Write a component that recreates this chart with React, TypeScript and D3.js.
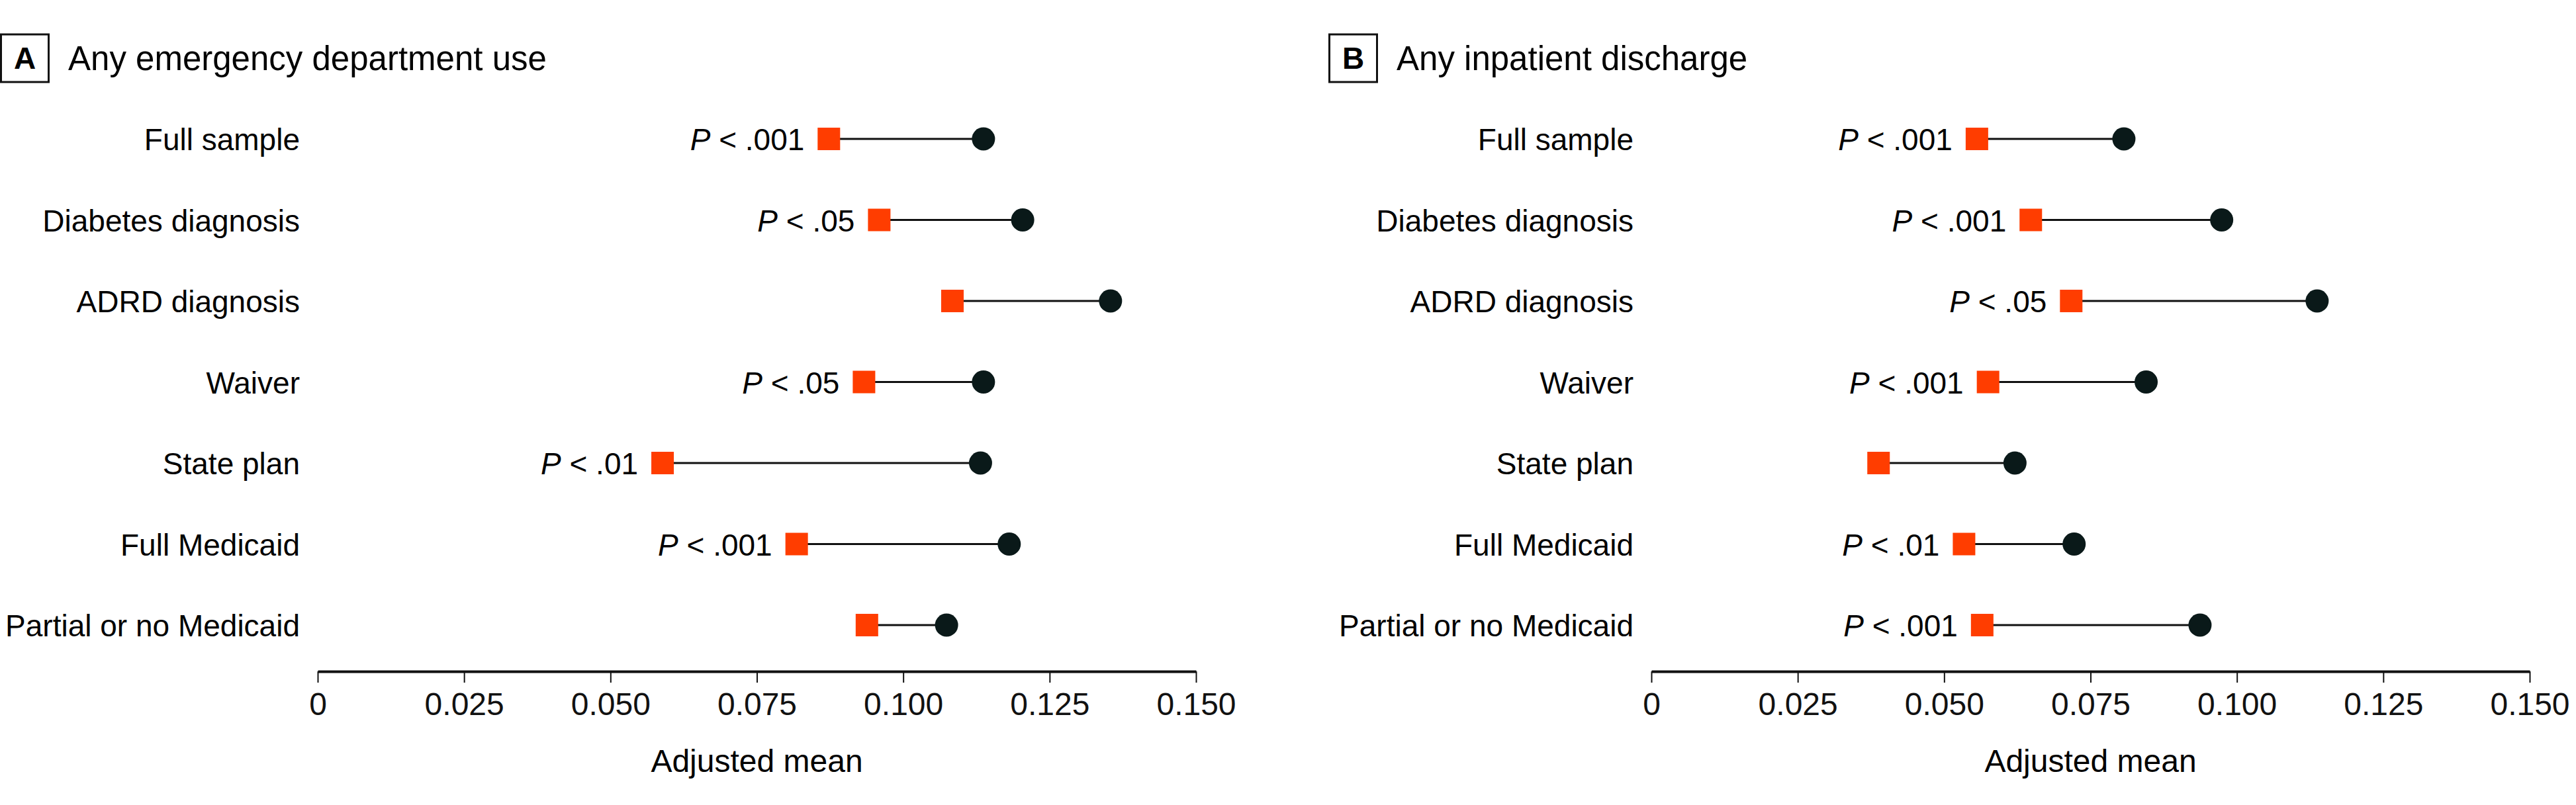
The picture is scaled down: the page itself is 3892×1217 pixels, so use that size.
import React, { useEffect, useRef } from 'react';
import * as d3 from 'd3';

// Row categories, top to bottom
const CATEGORIES = [
  'Full sample',
  'Diabetes diagnosis',
  'ADRD diagnosis',
  'Waiver',
  'State plan',
  'Full Medicaid',
  'Partial or no Medicaid',
];

// Panel A: any emergency department use (square = lower, circle = higher)
const ED_SQUARE = [0.0873, 0.0959, 0.1084, 0.0933, 0.0589, 0.0818, 0.0938];
const ED_CIRCLE = [0.1137, 0.1204, 0.1354, 0.1137, 0.1132, 0.1181, 0.1074];
const ED_P = ['.001', '.05', '', '.05', '.01', '.001', ''];

// Panel B: any inpatient discharge
const IP_SQUARE = [0.0556, 0.0648, 0.0717, 0.0575, 0.0388, 0.0534, 0.0565];
const IP_CIRCLE = [0.0807, 0.0974, 0.1137, 0.0845, 0.0621, 0.0722, 0.0937];
const IP_P = ['.001', '.001', '.05', '.001', '', '.01', '.001'];

const TICKS = [0, 0.025, 0.05, 0.075, 0.1, 0.125, 0.15];
const TICK_LABELS = ['0', '0.025', '0.050', '0.075', '0.100', '0.125', '0.150'];

const PANELS = [
  { letter: 'A', title: 'Any emergency department use', squares: ED_SQUARE, circles: ED_CIRCLE, pvals: ED_P },
  { letter: 'B', title: 'Any inpatient discharge', squares: IP_SQUARE, circles: IP_CIRCLE, pvals: IP_P },
];

const W = 3892;
const H = 1217;
const FONT = '"Liberation Sans", Arial, sans-serif';
const ORANGE = '#ff3d00';
const DARK = '#0a1919';

const App = () => {
  const ref = useRef<SVGSVGElement | null>(null);

  useEffect(() => {
    const svg = d3.select(ref.current);
    svg.selectAll('*').remove();

    const y = d3.scalePoint<string>().domain(CATEGORIES).range([210, 945]);

    PANELS.forEach((p, pi) => {
      const ox = pi * 2015;
      const g = svg.append('g').attr('transform', `translate(${ox},0)`);
      const x = d3.scaleLinear().domain([0, 0.15]).range([480, 1807]);

      // header box + title (box B sits slightly left of the panel offset)
      const hx = pi * -8;
      g.append('rect')
        .attr('x', hx + 1.5).attr('y', 52)
        .attr('width', 72).attr('height', 72)
        .attr('fill', 'none').attr('stroke', '#111').attr('stroke-width', 3);
      g.append('text')
        .attr('x', hx + 37.5).attr('y', 104)
        .attr('text-anchor', 'middle')
        .attr('font-family', FONT).attr('font-weight', 'bold').attr('font-size', 46)
        .text(p.letter);
      g.append('text')
        .attr('x', hx + 103).attr('y', 106)
        .attr('font-family', FONT).attr('font-size', 51)
        .text(p.title);

      // row labels
      g.selectAll('.rowlab')
        .data(CATEGORIES)
        .enter().append('text')
        .attr('x', 453)
        .attr('y', d => (y(d) as number) + 17)
        .attr('text-anchor', 'end')
        .attr('font-family', FONT).attr('font-size', 46)
        .text(d => d);

      // connecting lines
      g.selectAll('.seg')
        .data(CATEGORIES)
        .enter().append('line')
        .attr('x1', (_, i) => x(p.squares[i]))
        .attr('x2', (_, i) => x(p.circles[i]))
        .attr('y1', d => y(d) as number)
        .attr('y2', d => y(d) as number)
        .attr('stroke', '#111').attr('stroke-width', 3);

      // circles
      g.selectAll('.dot')
        .data(CATEGORIES)
        .enter().append('circle')
        .attr('cx', (_, i) => x(p.circles[i]))
        .attr('cy', d => y(d) as number)
        .attr('r', 17.5)
        .attr('fill', DARK);

      // squares
      g.selectAll('.sq')
        .data(CATEGORIES)
        .enter().append('rect')
        .attr('x', (_, i) => x(p.squares[i]) - 17)
        .attr('y', d => (y(d) as number) - 17)
        .attr('width', 34).attr('height', 34)
        .attr('fill', ORANGE);

      // P value labels
      const pl = g.selectAll('.plab')
        .data(CATEGORIES.map((c, i) => ({ c, i })).filter(d => p.pvals[d.i] !== ''))
        .enter().append('text')
        .attr('x', d => x(p.squares[d.i]) - 37)
        .attr('y', d => (y(d.c) as number) + 17)
        .attr('text-anchor', 'end')
        .attr('font-family', FONT).attr('font-size', 46);
      pl.append('tspan').attr('font-style', 'italic').text('P');
      pl.append('tspan').text(d => ` < ${p.pvals[d.i]}`);

      // x axis
      const axisG = g.append('g').attr('transform', 'translate(0,1015)');
      axisG.call(
        d3.axisBottom(x)
          .tickValues(TICKS)
          .tickSize(17)
          .tickSizeOuter(0)
          .tickPadding(15)
          .tickFormat((_, i) => TICK_LABELS[i])
      );
      axisG.select('.domain').attr('stroke', '#111').attr('stroke-width', 4);
      axisG.selectAll('.tick line').attr('stroke', '#111').attr('stroke-width', 2);
      axisG.selectAll('.tick text')
        .attr('font-family', FONT).attr('font-size', 48).attr('fill', '#111');

      g.append('text')
        .attr('x', (x(0) + x(0.15)) / 2)
        .attr('y', 1167)
        .attr('text-anchor', 'middle')
        .attr('font-family', FONT).attr('font-size', 48)
        .text('Adjusted mean');
    });
  }, []);

  return (
    <svg
      ref={ref}
      width={W}
      height={H}
      style={{ position: 'absolute', left: 0, top: 0, background: '#fff' }}
    />
  );
};

export default App;
